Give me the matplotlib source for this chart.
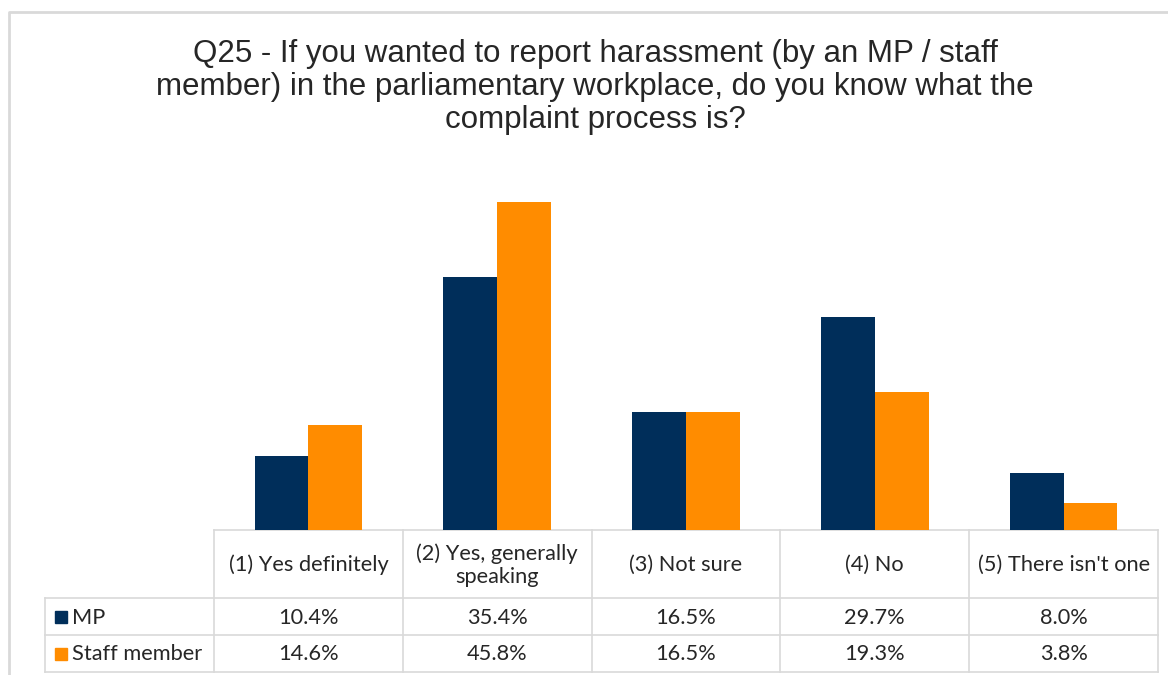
import matplotlib
matplotlib.use("Agg")
import matplotlib.pyplot as plt
from matplotlib.patches import Rectangle
import numpy as np

# Survey responses: Q25 complaint-process awareness
categories = ["(1) Yes definitely", "(2) Yes, generally\nspeaking", "(3) Not sure",
              "(4) No", "(5) There isn't one"]
series_names = ["MP", "Staff member"]
mp_values = [10.4, 35.4, 16.5, 29.7, 8.0]
staff_values = [14.6, 45.8, 16.5, 19.3, 3.8]
title = ("Q25 - If you wanted to report harassment (by an MP / staff\n"
         "member) in the parliamentary workplace, do you know what the\n"
         "complaint process is?")

NAVY = "#002E5A"
ORANGE = "#FF8C00"
GRID = "#D9D9D9"
TEXT = "#262626"

W, H = 1168, 675
fig = plt.figure(figsize=(W / 100, H / 100), dpi=100)
fig.patch.set_facecolor("white")

def fx(px):
    return px / W

def fy(py):
    return 1 - py / H

# Overlay axes in pixel units for frame and table
ov = fig.add_axes([0, 0, 1, 1])
ov.set_xlim(0, W)
ov.set_ylim(H, 0)
ov.axis("off")

# Outer chart frame
ov.plot([9, 9, W], [H, 12, 12], color=GRID, lw=2, solid_capstyle="butt", zorder=1)

# Title
ov.text(595, 87, title, ha="center", va="center", fontsize=22.5,
        family="Liberation Sans", color=TEXT, linespacing=1.12)

# Bar plot area
left, right = 214, 1158
top, bottom = 172, 530
ax = fig.add_axes([fx(left), fy(bottom), fx(right) - fx(left), (bottom - top) / H])
n = len(categories)
x = np.arange(n)
bw = 0.285
ax.bar(x - bw / 2, mp_values, width=bw, color=NAVY, zorder=2)
ax.bar(x + bw / 2, staff_values, width=bw, color=ORANGE, zorder=2)
ax.set_xlim(-0.5, n - 0.5)
ax.set_ylim(0, 50)
ax.axis("off")

# Data table below the bars
col_w = (right - left) / n
col_edges = [left + i * col_w for i in range(n + 1)]
label_left = 45
row_y = [530, 598, 635, 672]
lw = 1.2
# horizontal lines
ov.plot([left, right], [row_y[0], row_y[0]], color=GRID, lw=lw, zorder=1)
for yy in row_y[1:]:
    ov.plot([label_left, right], [yy, yy], color=GRID, lw=lw, zorder=1)
# vertical lines
ov.plot([label_left, label_left], [row_y[1], row_y[3]], color=GRID, lw=lw, zorder=1)
for xx in col_edges:
    ov.plot([xx, xx], [row_y[0], row_y[3]], color=GRID, lw=lw, zorder=1)

tfont = dict(family="Lato", fontsize=15.7, color=TEXT)
for i, cat in enumerate(categories):
    cx = (col_edges[i] + col_edges[i + 1]) / 2
    ov.text(cx, (row_y[0] + row_y[1]) / 2 + 1, cat, ha="center", va="center",
            linespacing=1.2, **tfont)
    ov.text(cx, (row_y[1] + row_y[2]) / 2 + 1, f"{mp_values[i]:.1f}%",
            ha="center", va="center", **tfont)
    ov.text(cx, (row_y[2] + row_y[3]) / 2 + 1, f"{staff_values[i]:.1f}%",
            ha="center", va="center", **tfont)

for r, (name, col) in enumerate(zip(series_names, [NAVY, ORANGE])):
    cy = (row_y[r + 1] + row_y[r + 2]) / 2
    ov.add_patch(Rectangle((55, cy - 6), 12, 12, color=col, zorder=2))
    ov.text(72, cy + 1, name, ha="left", va="center", **tfont)

fig.savefig("out.png", dpi=100, facecolor="white")
